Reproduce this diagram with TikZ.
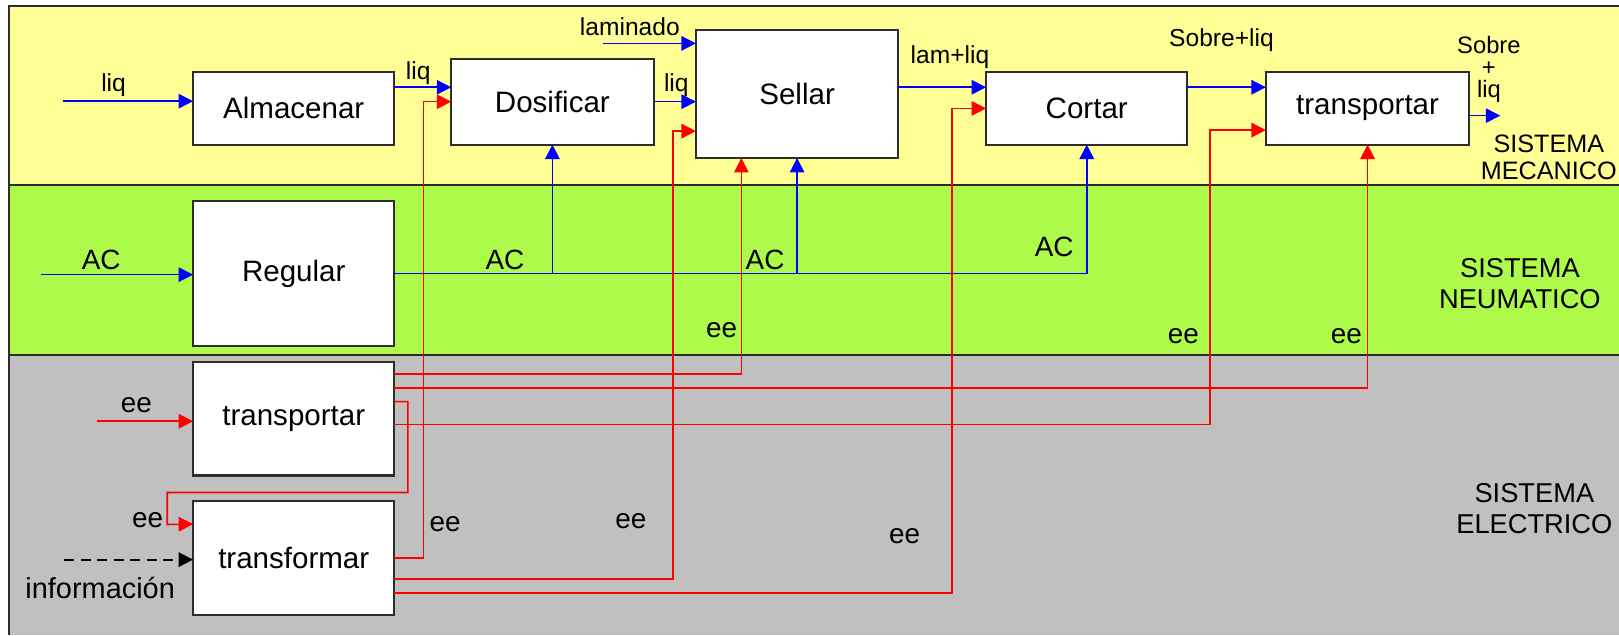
\documentclass[tikz,border=0pt]{standalone}
\usepackage{fontspec}
\setmainfont{Liberation Sans}
\usepackage{xcolor}
\usetikzlibrary{positioning,arrows.meta}
\definecolor{mecyellow}{RGB}{255,255,150}
\definecolor{neugreen}{RGB}{173,250,75}
\definecolor{elegray}{RGB}{192,192,192}
\definecolor{framegray}{RGB}{45,45,45}

\begin{document}
\begin{tikzpicture}[x=0.5pt, y=-0.5pt,
        box/.style={draw=framegray, line width=1pt, fill=white, inner sep=0pt, outer sep=0pt,
                    minimum width=97.5pt, font=\fontsize{14.3}{16}\selectfont},
        lbl/.style={inner sep=0pt, font=\fontsize{11.9}{13}\selectfont},
        sig/.style={inner sep=0pt, font=\fontsize{13.5}{15}\selectfont},
        sys/.style={inner sep=0pt, align=center, font=\fontsize{13.2}{15}\selectfont},
        mec/.style={line width=0.75pt, blue, -{Triangle[length=7pt,width=7pt]}},
        ele/.style={line width=0.75pt, red, -{Triangle[length=7pt,width=7pt]}},
        info/.style={line width=0.9pt, black, dash pattern=on 5pt off 3pt,
                     -{Triangle[length=7pt,width=7pt]}}]
        \useasboundingbox (0,0) rectangle (1568,615);
        \fill[mecyellow] (8.7,5.8) rectangle (1568,179);
        \fill[neugreen] (8.7,179) rectangle (1568,344);
        \fill[elegray] (8.7,344) rectangle (1568,615);
        \draw[framegray, line width=1pt] (1568,5.8) -- (8.7,5.8) -- (8.7,615);
        \draw[framegray, line width=1pt] (8.7,179) -- (1568,179) (8.7,344) -- (1568,344);

        \node[box, minimum height=35pt] (alm) at (284.5,105) {Almacenar};
        \node[box, minimum width=98pt, minimum height=41.5pt] (dos) at (535,98.5) {Dosificar};
        \node[box, minimum width=98pt, minimum height=62pt] (sel) at (772,91) {Sellar};
        \node[box, minimum height=35pt] (cor) at (1052.5,105) {Cortar};
        \node[box, minimum width=98.5pt, minimum height=35pt] (tra) at (1324.5,105) {transportar};
        \node[box, minimum height=70pt, below=27.5pt of alm] (reg) {Regular};
        \node[box, minimum height=55pt, below=7.75pt of reg] (trb) {transportar};
        \node[box, minimum height=55pt, below=12.5pt of trb] (trf) {transformar};

        \coordinate (liqin) at (61,98);
        \coordinate (lamin) at (584,42);
        \coordinate (sobout) at (1453,112);
        \coordinate (acin) at (40,266);
        \coordinate (eein) at (94,408);
        \coordinate (infin) at (62,542);

        \draw[mec] (liqin) -- (liqin -| alm.west);
        \draw[mec] ([yshift=10.25pt]alm.east) -- ([yshift=7pt]dos.west);
        \draw[mec] (dos.east) -- ([yshift=-3.75pt]sel.west);
        \draw[mec] (lamin) -- (lamin -| sel.west);
        \draw[mec] ([yshift=3.25pt]sel.east) -- ([yshift=10.25pt]cor.west);
        \draw[mec] ([yshift=10.25pt]cor.east) -- ([yshift=10.25pt]tra.west);
        \draw[mec] ([yshift=-3.5pt]tra.east) -- (sobout);
        \draw[mec] (acin) -- (acin -| reg.west);
        \draw[mec] (reg.east) -| (dos.south);
        \draw[mec] (reg.east) -| (sel.south);
        \draw[mec] (reg.east) -| (cor.south);

        \draw[ele] (eein) -- (eein -| trb.west);
        \draw[ele] ([yshift=8.25pt]trb.east) -| ++(13,88) -| ++(-233,31) -- ([yshift=16.5pt]trf.west);
        \draw[ele] ([yshift=21.75pt]trb.east) -| ([xshift=-27pt]sel.south);
        \draw[ele] ([yshift=14.75pt]trb.east) -| (tra.south);
        \draw[ele] ([yshift=-2.75pt]trb.east) -| ([xshift=-27pt,yshift=-10.5pt]tra.west) -- ([yshift=-10.5pt]tra.west);
        \draw[ele] (trf.east) -| ([xshift=-13.5pt]dos.west) -- (dos.west);
        \draw[ele] ([yshift=-10pt]trf.east) -| ([xshift=-11pt,yshift=-18pt]sel.west) -- ([yshift=-18pt]sel.west);
        \draw[ele] ([yshift=-17pt]trf.east) -| ([xshift=-16.5pt]cor.west) -- (cor.west);
        \draw[info] (infin) -- (infin -| trf.west);

        \node[lbl] (lliqa) at (110,82) {liq};
        \node[lbl] (lliqb) at (405,71) {liq};
        \node[lbl] (lliqc) at (655,82) {liq};
        \node[lbl] (llam) at (610,26) {laminado};
        \node[lbl] (llamliq) at (920,55) {lam+liq};
        \node[lbl] (lsobliq) at (1183,39) {Sobre+liq};
        \node[lbl, align=center, font=\fontsize{11.5}{10.5}\selectfont] (lsob) at (1442,67) {Sobre\\+\\liq};
        \node[sys, font=\fontsize{12.2}{13}\selectfont] (smec) at (1500,152) {SISTEMA\\MECANICO};

        \node[sig] (laca) at (98,252) {AC};
        \node[sig] (lacb) at (489,252) {AC};
        \node[sig] (lacc) at (741,252) {AC};
        \node[sig] (lacd) at (1021,239) {AC};
        \node[sig] (leea) at (699,320) {ee};
        \node[sig] (leeb) at (1146,326) {ee};
        \node[sig] (leec) at (1304,326) {ee};
        \node[sys] (sneu) at (1472,275) {SISTEMA\\NEUMATICO};

        \node[sig] (leed) at (132,392) {ee};
        \node[sig] (leee) at (143,504) {ee};
        \node[sig] (leef) at (431,508) {ee};
        \node[sig] (leeg) at (611,505) {ee};
        \node[sig] (leeh) at (876,519) {ee};
        \node[sig, font=\fontsize{14}{16}\selectfont] (linf) at (97,569) {información};
        \node[sys] (sele) at (1486,493) {SISTEMA\\ELECTRICO};
\end{tikzpicture}
\end{document}
